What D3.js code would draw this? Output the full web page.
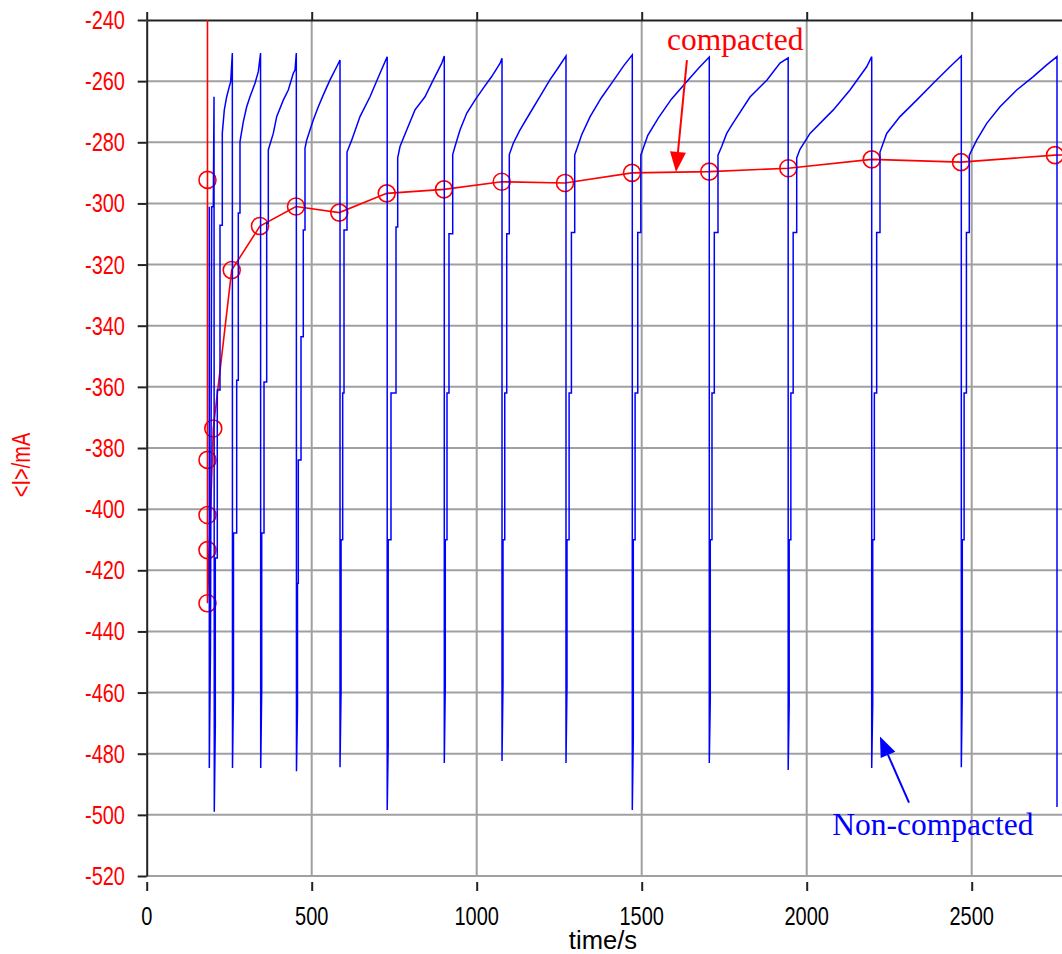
<!DOCTYPE html>
<html><head><meta charset="utf-8">
<script src="https://cdn.jsdelivr.net/npm/d3@7"></script>
<style>body{margin:0;background:#fff}svg{display:block}</style>
</head><body>
<svg id="c" width="1062" height="954"></svg>
<script>
// ---------------- data ----------------
const xTicks = [0, 500, 1000, 1500, 2000, 2500];
const yTicks = [-240, -260, -280, -300, -320, -340, -360, -380, -400, -420, -440, -460, -480, -500, -520];
const xLabel = "time/s";
const yLabel = "<I>/mA";

// compacted electrode (red, with circle markers)
const compactedTime    = [184.2, 184.2, 184.2, 184.2, 184.2, 184.2, 201.8, 257.6, 343.3, 452.4, 583.6, 727.3, 900.9, 1075.8, 1267.6, 1470.6, 1704.8, 1944.2, 2197.0, 2467.6, 2752.4, 3040];
const compactedCurrent = [-230, -292.3, -383.9, -401.9, -413.4, -430.8, -373.6, -321.8, -307.4, -301.0, -303.0, -296.7, -295.4, -292.9, -293.3, -290.0, -289.6, -288.5, -285.6, -286.5, -284.2, -283.3];

// non-compacted electrode (blue), one array of [time, current] per pulse cycle
const nonCompacted0 = [[189.7,-301.1],[189.7,-484.7],[193.3,-445.4],[197.0,-301.1],[201.8,-301.1],[204.0,-265.1],[204.8,-499.0]];
const nonCompacted1 = [[207.9,-471.2],[207.9,-416.0],[213.9,-416.0],[213.9,-361.0],[222.1,-361.0],[222.1,-307.1],[229.1,-307.1],[229.1,-277.0],[235.2,-269.4],[242.4,-265.1],[250.3,-261.8],[254.5,-260.2],[259.5,-250.8],[260.0,-484.7]];
const nonCompacted2 = [[263.0,-459.2],[263.0,-407.8],[272.7,-407.8],[272.7,-357.8],[277.6,-357.8],[277.6,-303.1],[282.7,-303.1],[282.7,-279.8],[292.7,-273.3],[303.0,-268.4],[313.0,-265.1],[328.2,-260.7],[338.2,-256.9],[345.0,-250.8],[345.5,-484.7]];
const nonCompacted3 = [[348.5,-459.2],[348.5,-407.8],[355.5,-407.8],[355.5,-358.4],[363.6,-358.4],[363.6,-306.4],[368.5,-306.4],[368.5,-282.5],[383.6,-277.1],[393.9,-271.6],[413.9,-266.2],[429.1,-262.9],[444.2,-257.4],[449.4,-256.4],[453.4,-250.8],[453.9,-485.7]];
const nonCompacted4 = [[456.9,-465.1],[456.9,-424.2],[459.4,-424.2],[459.4,-383.9],[467.6,-383.9],[467.6,-343.6],[474.5,-343.6],[474.5,-308.7],[479.7,-308.7],[479.7,-282.0],[484.8,-279.3],[494.8,-276.0],[504.8,-272.7],[520.0,-268.4],[535.2,-264.5],[555.5,-259.6],[575.8,-255.3],[583.6,-253.6],[585.8,-253.1],[585.8,-484.4]];
const nonCompacted5 = [[589.0,-459.2],[589.0,-410.0],[593.9,-410.0],[593.9,-362.0],[597.9,-362.0],[597.9,-308.7],[607.0,-308.7],[607.0,-283.2],[621.2,-279.3],[646.4,-271.6],[676.7,-265.1],[707.0,-257.4],[728.8,-252.0],[728.8,-498.4]];
const nonCompacted6 = [[731.8,-477.2],[731.8,-410],[740.3,-410],[740.3,-362],[755.5,-362],[755.5,-307.7],[760.6,-307.7],[760.6,-285.1],[767.6,-281.4],[787.9,-276.0],[813.0,-269.4],[843.3,-265.1],[868.5,-259.6],[893.9,-254.2],[901.8,-251.8],[901.8,-483.0]];
const nonCompacted7 = [[904.8,-457.9],[904.8,-410],[910,-410],[910,-362],[916,-362],[916,-309.9],[927.3,-309.9],[927.3,-284.0],[934.2,-281.4],[949.4,-276.0],[969.7,-270.5],[994.8,-266.2],[1020.0,-262.3],[1045.5,-258.5],[1070.6,-254.2],[1076.7,-252.5],[1076.7,-482.4]];
const nonCompacted8 = [[1079.7,-457.2],[1079.7,-410],[1085,-410],[1085,-362],[1091,-362],[1091,-309.9],[1098.8,-309.9],[1098.8,-284.0],[1110.9,-280.3],[1130.9,-276.0],[1161.2,-270.5],[1191.5,-265.1],[1221.8,-259.6],[1246.4,-255.7],[1270.6,-251.8],[1270.6,-483.0]];
const nonCompacted9 = [[1273.6,-457.9],[1273.6,-410],[1280,-410],[1280,-362],[1287,-362],[1287,-309.5],[1297,-309.5],[1297,-284.2],[1317.9,-277.6],[1343.3,-271.7],[1377.3,-265.5],[1411.2,-260.3],[1445.2,-255.0],[1471.5,-251.4],[1471.5,-498.4]];
const nonCompacted10 = [[1474.5,-475],[1474.5,-410],[1480,-410],[1480,-362],[1488,-362],[1488,-309.5],[1497.3,-309.5],[1497.3,-284.2],[1518.5,-277.7],[1550.6,-272.0],[1590.0,-265.9],[1631.5,-260.8],[1673.6,-255.6],[1704.8,-252.1],[1704.8,-483.0]];
const nonCompacted11 = [[1707.8,-462.4],[1707.8,-410],[1713,-410],[1713,-362],[1720,-362],[1720,-309.5],[1731.2,-309.5],[1731.2,-284.2],[1742.4,-281.4],[1757.6,-277.1],[1776.7,-273.7],[1828.2,-265.2],[1879.7,-259.6],[1919.1,-254.1],[1943.9,-252.4],[1943.9,-485.3]];
const nonCompacted12 = [[1946.9,-464],[1946.9,-410],[1952,-410],[1952,-362],[1959,-362],[1959,-309.5],[1969.7,-309.5],[1969.7,-285.1],[1979.7,-282.3],[2010.0,-277.1],[2080.6,-269.4],[2131.2,-262.9],[2181.8,-255.3],[2197.0,-252.0],[2197.0,-484.7]];
const nonCompacted13 = [[2200,-464],[2200,-410],[2205,-410],[2205,-362],[2212,-362],[2212,-309.5],[2222.1,-309.5],[2222.1,-283.2],[2242.4,-277.1],[2282.7,-271.6],[2333.3,-266.2],[2383.6,-260.7],[2434.2,-255.3],[2468.5,-251.8],[2468.5,-484.4]];
const nonCompacted14 = [[2471.5,-459.2],[2471.5,-410],[2477,-410],[2477,-362],[2484,-362],[2484,-309.5],[2492.7,-309.5],[2492.7,-284.2],[2515.2,-279.3],[2545.5,-273.8],[2585.8,-268.4],[2636.4,-262.9],[2686.7,-258.5],[2727.3,-254.7],[2758.5,-252.0],[2758.5,-497.4]];
const nonCompactedCycles = [nonCompacted0, nonCompacted1, nonCompacted2, nonCompacted3, nonCompacted4, nonCompacted5, nonCompacted6, nonCompacted7, nonCompacted8, nonCompacted9, nonCompacted10, nonCompacted11, nonCompacted12, nonCompacted13, nonCompacted14];

// annotations: [label, text anchor point, arrow tail, arrow tip] in data units
const annCompacted    = {text: "compacted",     at: [1577, -249.8], tail: [1637, -253.1], tip: [1604, -289.7]};
const annNonCompacted = {text: "Non-compacted", at: [2077.6, -506.6], tail: [2310, -496.0], tip: [2222, -474.4]};

// ---------------- drawing ----------------
const X0 = 146.7, X1 = 1062, Y0 = 20, Y1 = 876;
const pxPerSec = 0.33;
const x = d3.scaleLinear().domain([0, (X1 - X0) / pxPerSec]).range([X0, X1]);
const y = d3.scaleLinear().domain([-240, -520]).range([Y0, Y1]);

const svg = d3.select("#c");
const RED = "#ff0000", BLUE = "#0000ff", GRID = "#a0a0a0", AX = "#222";
const FONT = "'Liberation Sans', Arial, sans-serif";
const SERIF = "'Liberation Serif', 'Times New Roman', serif";

svg.append("defs").append("clipPath").attr("id", "plot")
  .append("rect").attr("x", X0).attr("y", Y0).attr("width", X1 - X0).attr("height", Y1 - Y0);

// grid
const grid = svg.append("g");
grid.selectAll(".gh").data(yTicks.slice(1)).join("line")
  .attr("x1", X0).attr("x2", X1).attr("y1", d => y(d)).attr("y2", d => y(d))
  .attr("stroke", GRID).attr("stroke-width", 2);
grid.selectAll(".gv").data(xTicks.slice(1)).join("line")
  .attr("x1", d => x(d)).attr("x2", d => x(d)).attr("y1", Y0).attr("y2", Y1)
  .attr("stroke", GRID).attr("stroke-width", 2);

// top axis (black frame line + outward ticks)
const topAx = svg.append("g").attr("transform", `translate(0,${Y0})`)
  .call(d3.axisTop(x).tickValues(xTicks).tickSize(8).tickSizeOuter(0).tickFormat(""));
topAx.select(".domain").attr("stroke", AX).attr("stroke-width", 2);
topAx.selectAll(".tick line").attr("stroke", AX).attr("stroke-width", 2);

// left axis
const leftAx = svg.append("g").attr("transform", `translate(${X0},0)`)
  .call(d3.axisLeft(y).tickValues(yTicks).tickSize(9).tickSizeOuter(0).tickFormat(""));
leftAx.select(".domain").attr("stroke", AX).attr("stroke-width", 2);
leftAx.selectAll(".tick line").attr("stroke", AX).attr("stroke-width", 2);

// bottom ticks (detached from plot edge)
const botAx = svg.append("g").attr("transform", `translate(0,${Y1 + 6})`)
  .call(d3.axisBottom(x).tickValues(xTicks).tickSize(9).tickFormat(""));
botAx.select(".domain").remove();
botAx.selectAll(".tick line").attr("stroke", AX).attr("stroke-width", 2);

function tallText(g, tx, ty, str, anchor, color, rot, sx) {
  return g.append("text")
    .attr("transform", `translate(${tx},${ty})${rot ? " rotate(" + rot + ")" : ""} scale(${sx || 1},1.25)`)
    .attr("text-anchor", anchor).attr("fill", color)
    .attr("font-family", FONT).attr("font-size", 20).text(str);
}
const labels = svg.append("g");
yTicks.forEach(v => tallText(labels, 125, y(v) + 9, String(v), "end", RED));
xTicks.forEach(t => tallText(labels, x(t), 925, String(t), "middle", "#000"));
tallText(labels, 603, 949, xLabel, "middle", "#000", null, 1.28);
tallText(labels, 30, 465, yLabel, "middle", RED, -90);

// data layers
const plot = svg.append("g").attr("clip-path", "url(#plot)");
const line = d3.line().x(d => x(d[0])).y(d => y(d[1]));

const compacted = compactedTime.map((t, i) => [t, compactedCurrent[i]]);
plot.append("path").datum(compacted).attr("d", line)
  .attr("fill", "none").attr("stroke", RED).attr("stroke-width", 1.6);
plot.selectAll(".mk").data(compacted).join("circle")
  .attr("cx", d => x(d[0])).attr("cy", d => y(d[1])).attr("r", 8.5)
  .attr("fill", "none").attr("stroke", RED).attr("stroke-width", 1.6);

const blue = nonCompactedCycles.flat();
plot.append("path").datum(blue).attr("d", line)
  .attr("fill", "none").attr("stroke", BLUE).attr("stroke-width", 1.5)
  .attr("stroke-linejoin", "miter");

// annotations
function arrow(a, color) {
  const [x1, y1] = [x(a.tail[0]), y(a.tail[1])];
  const [x2, y2] = [x(a.tip[0]), y(a.tip[1])];
  const ang = Math.atan2(y2 - y1, x2 - x1);
  const L = 20, Wd = 8;
  const bx = x2 - L * Math.cos(ang), by = y2 - L * Math.sin(ang);
  const px = -Math.sin(ang) * Wd, py = Math.cos(ang) * Wd;
  svg.append("line").attr("x1", x1).attr("y1", y1).attr("x2", bx).attr("y2", by)
    .attr("stroke", color).attr("stroke-width", 2);
  svg.append("path").attr("d", `M${x2},${y2}L${bx + px},${by + py}L${bx - px},${by - py}Z`).attr("fill", color);
  svg.append("text").attr("x", x(a.at[0])).attr("y", y(a.at[1]))
    .attr("font-family", SERIF).attr("font-size", 31.5).attr("fill", color).text(a.text);
}
arrow(annCompacted, RED);
arrow(annNonCompacted, BLUE);
</script>
</body></html>
